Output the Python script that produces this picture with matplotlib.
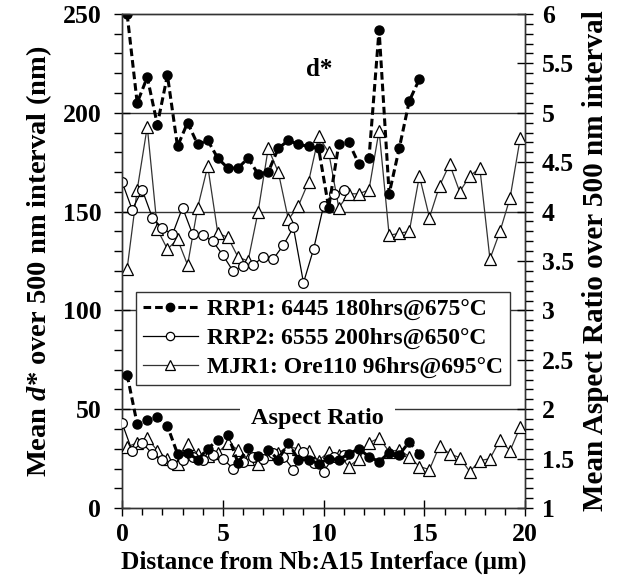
import numpy as np
import matplotlib
matplotlib.use('Agg')
import matplotlib.pyplot as plt
from matplotlib.lines import Line2D

plt.rcParams['font.family'] = ['Liberation Serif', 'DejaVu Serif']
plt.rcParams['font.weight'] = 'bold'
plt.rcParams['mathtext.fontset'] = 'custom'
plt.rcParams['mathtext.bfit'] = 'Liberation Serif:italic:bold'

# position along the sample (um)
x_rrp1 = 0.25 + 0.5 * np.arange(30)
x_rrp2 = 0.5 * np.arange(23)
x_mjr1 = 0.25 + 0.5 * np.arange(40)

# mean d* (nm)
d_rrp1 = [250, 205, 218, 194, 219, 183, 195, 184, 186, 177,
          172, 172, 177, 169, 170, 182, 186, 184, 183, 182,
          152, 184, 185, 174, 177, 242, 159, 182, 206, 217]
d_rrp2 = [165, 151, 161, 147, 141.5, 138.5, 152, 138.5, 138, 135,
          128, 120, 122.5, 123, 127, 126, 133, 142, 114, 131,
          153, 159, 161]
d_mjr1 = [121, 161, 193, 141, 131, 136, 123, 152, 173, 139,
          137, 127, 125, 150, 182, 170, 146, 153, 165, 188,
          180, 152, 159, 159, 161, 191, 138, 139, 140, 168,
          147, 163, 174, 160, 168, 172, 126, 140, 157, 187]

# mean aspect ratio
ar_rrp1 = [2.35, 1.85, 1.89, 1.92, 1.83, 1.55, 1.56, 1.49, 1.60, 1.69,
           1.74, 1.46, 1.61, 1.53, 1.59, 1.49, 1.66, 1.49, 1.49, 1.45,
           1.50, 1.49, 1.55, 1.60, 1.52, 1.47, 1.56, 1.54, 1.67, 1.55]
ar_rrp2 = [1.86, 1.58, 1.66, 1.55, 1.49, 1.45, 1.49, 1.52, 1.49, 1.54,
           1.50, 1.40, 1.47, 1.52, 1.50, 1.56, 1.52, 1.39, 1.57, 1.46,
           1.37, 1.52, 1.54]
ar_mjr1 = [1.62, 1.66, 1.71, 1.58, 1.50, 1.45, 1.65, 1.55, 1.53, 1.56,
           1.66, 1.59, 1.50, 1.45, 1.55, 1.56, 1.62, 1.60, 1.58, 1.48,
           1.57, 1.54, 1.42, 1.50, 1.66, 1.71, 1.57, 1.59, 1.52, 1.42,
           1.39, 1.63, 1.55, 1.51, 1.37, 1.48, 1.50, 1.69, 1.58, 1.82]

labels = ['RRP1: 6445 180hrs@675\u00b0C',
          'RRP2: 6555 200hrs@650\u00b0C',
          'MJR1: Ore110 96hrs@695\u00b0C']

s1 = dict(color='black', lw=2.2, dashes=(2.5, 1.3), marker='o', ms=6.5,
          mfc='black', mec='black')
s2 = dict(color='black', lw=0.9, marker='o', ms=7, mfc='white', mec='black', mew=0.9)
s3 = dict(color='#333333', lw=0.9, marker='^', ms=8, mfc='white', mec='black', mew=0.9)

fig = plt.figure(figsize=(6.26, 5.8), dpi=100)
ax = fig.add_axes([0.195, 0.124, 0.644, 0.852])
ax2 = ax.twinx()

for yv in [50, 100, 150, 200]:
    ax.axhline(yv, color='#333333', lw=1.0, zorder=1)

ax.plot(x_mjr1, d_mjr1, zorder=3, **s3)
ax.plot(x_rrp2, d_rrp2, zorder=3, **s2)
ax.plot(x_rrp1, d_rrp1, zorder=4, **s1)

ax2.plot(x_mjr1, ar_mjr1, zorder=3, **s3)
ax2.plot(x_rrp2, ar_rrp2, zorder=3, **s2)
ax2.plot(x_rrp1, ar_rrp1, zorder=4, **s1)

ax.text(9.8, 222, 'd*', fontsize=18, fontweight='bold', ha='center', va='center')
ax.text(9.7, 45.5, 'Aspect Ratio', fontsize=17.5, fontweight='bold', ha='center',
        va='center', zorder=2,
        bbox=dict(facecolor='white', edgecolor='none', boxstyle='square,pad=0.45'))

ax.set_xlim(0, 20)
ax.set_ylim(0, 250)
ax2.set_ylim(1, 6)

ax.set_xticks([0, 5, 10, 15, 20])
ax.set_xticks(np.arange(0, 21, 1), minor=True)
ax.set_yticks([0, 50, 100, 150, 200, 250])
ax.set_yticks(np.arange(0, 251, 10), minor=True)
ax2.set_yticks([1, 1.5, 2, 2.5, 3, 3.5, 4, 4.5, 5, 5.5, 6])
ax2.set_yticklabels(['1', '1.5', '2', '2.5', '3', '3.5', '4', '4.5', '5', '5.5', '6'])
ax2.set_yticks(np.arange(1, 6.01, 0.1), minor=True)

ax.tick_params(axis='both', which='major', direction='inout', length=12, width=1,
               labelsize=18.5)
ax.tick_params(axis='x', which='major', pad=5)
ax.tick_params(axis='y', which='major', pad=9)
ax.tick_params(axis='both', which='minor', direction='out', length=5, width=1)
ax.tick_params(axis='y', which='minor', length=6)
ax2.tick_params(axis='y', which='major', direction='inout', length=12, width=1,
                labelsize=18.5, pad=6)
ax2.tick_params(axis='y', which='minor', direction='out', length=6, width=1)

for a in (ax, ax2):
    for sp in a.spines.values():
        sp.set_color('#333333')
        sp.set_linewidth(1.0)

ax.set_xlabel('Distance from Nb:A15 Interface (\u03bcm)', fontsize=18.2,
              fontweight='bold', labelpad=3)
ax.set_ylabel('Mean $\\mathbfit{d}$* over 500 nm interval (nm)', fontsize=20.5,
              fontweight='bold', labelpad=6)
ax2.set_ylabel('Mean Aspect Ratio over 500 nm interval', fontsize=21,
               fontweight='bold', labelpad=6)

handles = [Line2D([], [], **{**s1, 'ms': 6}),
           Line2D([], [], **{**s2, 'ms': 6}),
           Line2D([], [], **{**s3, 'ms': 7})]
leg = ax2.legend(handles, labels, loc='upper left', bbox_to_anchor=(0.035, 0.438),
                 borderaxespad=0, fancybox=False, framealpha=1, edgecolor='#333333',
                 handlelength=2.3, handletextpad=0.4,
                 borderpad=0.3, labelspacing=0.3,
                 prop={'weight': 'bold', 'size': 17})
leg.get_frame().set_linewidth(1.0)

fig.savefig('out.png', dpi=100)
